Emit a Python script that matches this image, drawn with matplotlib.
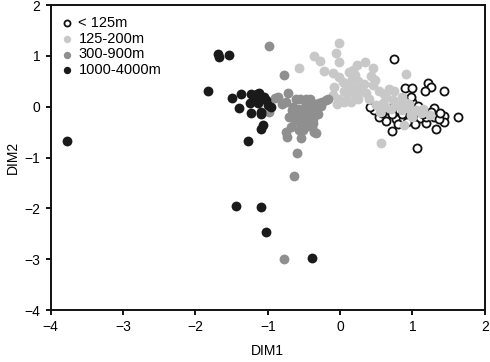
import numpy as np
import matplotlib
matplotlib.use("Agg")
import matplotlib.pyplot as plt

plt.rcParams['font.family'] = ['Liberation Sans', 'DejaVu Sans']

labels = ["< 125m", "125-200m", "300-900m", "1000-4000m"]

open_pts = [(0.74, 0.93), (1.21, 0.46), (1.26, 0.38), (1.17, 0.30), (1.44, 0.31), (0.89, 0.37),
            (1.00, 0.37), (1.63, -0.20), (1.44, -0.19), (1.44, -0.31), (1.33, -0.43), (1.06, -0.82),
            (0.71, -0.48), (0.64, -0.28), (0.77, -0.24), (0.82, -0.06), (0.94, 0.13), (1.05, -0.06),
            (1.10, -0.23), (1.19, -0.33), (1.03, -0.34), (1.30, -0.03), (1.30, -0.20), (1.19, -0.20),
            (1.10, -0.07), (0.96, -0.07), (0.87, -0.26), (0.75, 0.03), (0.66, -0.07), (0.47, -0.07),
            (0.54, -0.20), (0.41, 0.00), (0.90, 0.05), (1.00, 0.10), (0.85, -0.15), (0.93, -0.30),
            (1.25, -0.10), (1.36, -0.25), (1.15, -0.15), (0.80, -0.35), (1.08, 0.02), (0.58, -0.12),
            (0.72, -0.15), (0.98, 0.20), (1.38, -0.12)]

light_pts = [(-0.02, 1.26), (-0.06, 1.06), (-0.01, 0.87), (-0.36, 1.00), (-0.28, 0.90), (-0.57, 0.76),
             (-0.22, 0.71), (-0.10, 0.67), (0.23, 0.82), (0.34, 0.87), (0.45, 0.76), (0.91, 0.64),
             (0.56, -0.72), (0.88, -0.36), (0.04, 0.49), (0.17, 0.55), (0.11, 0.26), (0.27, 0.39),
             (0.22, 0.20), (0.36, 0.26), (0.45, 0.43), (0.54, 0.30), (0.64, 0.20), (0.59, 0.07),
             (0.73, 0.13), (0.80, 0.03), (0.50, 0.03), (-0.01, 0.16), (0.06, 0.10), (0.94, -0.03),
             (1.05, -0.06), (1.24, -0.16), (0.98, -0.16), (-0.01, 0.59), (0.18, 0.72), (0.13, 0.39),
             (-0.10, 0.23), (0.08, 0.13), (0.63, 0.00), (0.86, -0.07), (0.91, 0.07), (1.12, -0.12),
             (0.20, 0.62), (0.25, 0.50), (0.30, 0.30), (0.40, 0.15), (0.15, 0.10), (0.68, 0.35),
             (0.75, 0.30), (0.85, 0.20), (0.95, 0.05), (1.00, -0.20), (0.70, -0.05), (0.55, -0.10),
             (0.60, 0.25), (0.10, 0.45), (0.05, 0.30), (0.20, 0.35), (0.33, 0.45), (-0.08, 0.38),
             (0.42, 0.60), (-0.05, 0.05), (1.15, -0.05), (0.25, 0.15), (0.48, 0.52), (0.12, 0.68)]

dark_pts = [(-0.98, 1.19), (-0.77, 0.62), (-0.77, -3.00), (-0.64, -1.36), (-0.59, -0.92), (-0.54, -0.62),
            (-0.74, -0.59), (-0.86, 0.20), (-0.72, 0.26), (-0.75, 0.10), (-0.56, 0.16), (-0.42, 0.16),
            (-0.29, 0.07), (-0.19, 0.13), (-0.49, 0.00), (-0.33, -0.03), (-0.63, -0.13), (-0.52, -0.16),
            (-0.70, -0.20), (-0.42, -0.20), (-0.56, -0.33), (-0.38, -0.33), (-0.68, -0.39), (-0.52, -0.46),
            (-0.33, -0.52), (-0.75, -0.49), (-0.98, -0.10), (-0.17, 0.15), (-0.61, 0.16), (-0.47, 0.16),
            (-0.36, -0.49), (-0.45, -0.10), (-0.58, -0.05), (-0.50, -0.25), (-0.40, -0.12), (-0.44, -0.30),
            (-0.35, 0.05), (-0.27, 0.02), (-0.25, 0.10), (-0.55, -0.08), (-0.62, -0.28), (-0.48, -0.40),
            (-0.66, -0.07), (-0.43, 0.05), (-0.31, -0.15), (-0.53, -0.22), (-0.60, -0.15), (-0.37, -0.25),
            (-0.46, -0.35), (-0.80, 0.05), (-0.90, 0.18), (-0.65, 0.00), (-0.39, -0.40), (-0.57, -0.45)]

black_pts = [(-3.78, -0.67), (-1.69, 1.03), (-1.68, 0.98), (-1.54, 1.02), (-1.82, 0.30), (-1.49, 0.18),
             (-1.37, 0.25), (-1.40, -0.03), (-1.23, 0.25), (-1.12, 0.26), (-1.05, 0.20), (-1.24, 0.07),
             (-1.14, 0.07), (-1.00, 0.03), (-0.95, 0.00), (-1.09, -0.10), (-1.23, -0.12), (-1.07, -0.36),
             (-1.09, -0.43), (-1.28, -0.68), (-1.19, 0.17), (-1.02, 0.13), (-1.44, -1.95), (-1.10, -1.97),
             (-1.03, -2.47), (-0.39, -2.98), (-1.10, -0.15), (-1.15, 0.24)]

fig = plt.figure(figsize=(4.9, 3.62), dpi=100)
ax = fig.add_axes([0.1035, 0.1436, 0.886, 0.8425])

ms = 50
o = np.array(open_pts)
l = np.array(light_pts)
d = np.array(dark_pts)
b = np.array(black_pts)
ax.scatter(o[:, 0], o[:, 1], s=34, facecolors='white', edgecolors='#111111', linewidths=1.3,
           label=labels[0], zorder=2)
ax.scatter(l[:, 0], l[:, 1], s=ms, color='#c8c8c8', linewidths=0, label=labels[1], zorder=3)
ax.scatter(d[:, 0], d[:, 1], s=ms, color='#8f8f8f', linewidths=0, label=labels[2], zorder=4)
ax.scatter(b[:, 0], b[:, 1], s=ms, color='#1a1a1a', linewidths=0, label=labels[3], zorder=5)

ax.set_xlim(-4, 2)
ax.set_ylim(-4, 2)
ax.set_xticks(range(-4, 3))
ax.set_yticks(range(-4, 3))
for sp in ax.spines.values():
    sp.set_linewidth(1.4)
    sp.set_color('#111111')
ax.tick_params(direction='out', length=3.5, width=1.4, labelsize=10, pad=4, color='#111111')
ax.set_xlabel('DIM1', fontsize=10, labelpad=7)
ax.set_ylabel('DIM2', fontsize=10, labelpad=3)

leg = ax.legend(loc='upper left', frameon=False, fontsize=10.5, markerscale=0.75,
                handlelength=0.8, handletextpad=0.35, labelspacing=0.12,
                borderaxespad=0.45, borderpad=0.3)

fig.savefig('out.png', dpi=100)
